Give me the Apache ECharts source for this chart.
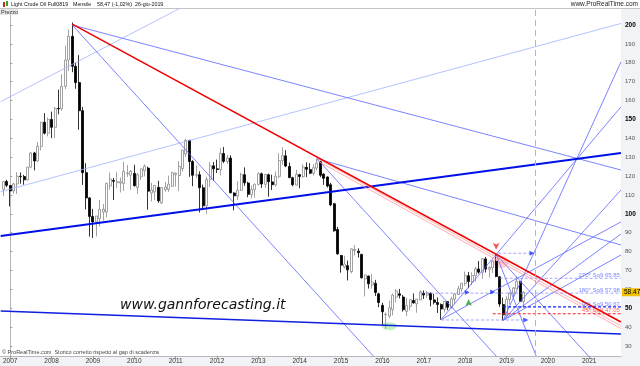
<!DOCTYPE html>
<html><head><meta charset="utf-8">
<script src="https://cdn.jsdelivr.net/npm/echarts@6/dist/echarts.min.js"></script>
<style>html,body{margin:0;padding:0;background:#fff}#c{width:640px;height:366px}</style>
</head><body><div id="c"></div>
<script>
// month index: 0 = Jan 2007; first candle Nov 2006 (-2), last Jun 2019 (149)
const firstMonth = -2;
const openP = [112.9,117.1,115.0,112.1,115.8,119.9,119.7,118.0,124.7,132.2,128.0,135.7,148.5,142.7,150.0,145.8,155.8,155.6,167.5,181.4,194.0,178.1,169.5,154.6,121.8,108.4,98.6,95.7,97.4,100.9,101.0,114.8,117.7,116.5,116.3,116.1,121.3,120.5,121.4,113.9,119.7,122.8,124.2,111.0,111.6,114.0,105.8,112.7,113.0,114.5,120.7,120.3,124.0,131.7,138.9,127.7,120.4,120.7,113.8,104.2,118.2,125.4,123.8,123.4,131.9,127.7,129.5,111.0,109.4,112.4,120.7,116.3,110.2,112.8,115.6,121.2,115.6,120.7,116.9,115.3,119.8,128.1,130.7,125.1,119.1,115.2,120.7,119.7,124.6,123.4,121.4,124.2,127.6,121.0,119.5,115.4,105.3,91.7,77.9,71.8,72.5,69.4,80.5,80.2,78.5,65.5,67.0,62.3,63.2,57.6,51.5,46.6,45.8,49.3,55.9,57.6,55.9,48.3,51.0,54.1,52.3,54.4,57.9,56.9,57.9,54.4,53.0,51.9,49.4,53.5,50.4,54.8,57.3,60.2,63.1,67.2,64.0,67.2,70.7,69.0,76.1,70.6,71.4,74.8,66.6,52.0,46.3,54.6,57.8,60.5,64.1,53.5];
const highP = [117.3,118.0,115.1,116.4,122.1,121.9,120.6,124.8,132.8,132.8,137.9,148.7,153.3,151.0,154.1,156.6,165.8,173.9,189.1,197.7,201.3,180.0,184.0,156.6,126.8,108.8,102.6,98.8,107.3,105.2,116.4,121.9,119.0,122.0,119.2,127.5,125.8,123.2,126.0,121.5,123.9,126.2,125.0,116.4,115.1,117.5,114.2,116.9,120.2,122.3,121.9,127.9,133.9,139.8,139.2,128.4,125.6,122.5,115.5,119.6,127.4,127.4,128.7,134.7,135.4,131.2,131.0,111.4,117.3,121.7,124.6,117.0,114.8,115.9,122.0,121.9,121.2,121.3,120.7,122.4,132.1,135.3,133.7,127.2,119.6,123.3,121.2,126.2,127.2,126.8,126.2,129.2,128.0,121.5,119.8,116.4,105.7,93.1,78.2,77.8,75.2,81.7,83.5,81.7,78.8,67.7,67.3,68.1,65.0,58.2,52.9,47.7,53.9,57.8,60.2,60.2,57.0,55.5,54.6,57.8,54.9,59.5,59.4,59.0,58.3,57.6,55.7,52.5,53.8,53.5,56.0,57.9,61.9,63.3,69.4,69.2,69.0,71.9,75.0,76.5,77.2,72.2,75.5,78.4,66.9,55.7,56.3,58.6,61.3,67.0,64.2,59.0];
const lowP = [109.4,114.1,103.9,110.6,110.5,115.9,115.4,117.6,124.1,123.0,127.5,133.6,142.0,141.0,140.1,140.1,152.7,154.5,166.1,175.6,175.0,166.2,144.5,115.3,102.3,87.9,87.2,88.0,93.2,96.4,98.2,112.8,107.3,113.7,111.3,112.1,119.5,112.7,114.4,110.5,117.9,119.8,102.2,106.6,107.2,105.8,105.2,111.7,111.6,114.4,114.4,112.0,122.4,130.1,119.6,114.6,118.9,100.7,102.1,100.0,114.2,117.5,121.6,120.3,126.9,126.4,110.9,101.8,107.3,112.2,114.8,108.8,108.1,108.5,115.0,113.7,113.8,109.1,112.6,114.4,118.8,126.1,124.7,118.8,114.5,115.0,113.5,119.0,119.4,121.0,120.3,122.9,119.4,115.3,113.9,104.0,90.5,78.3,68.8,71.0,64.7,68.5,77.9,76.8,65.7,56.2,60.4,60.4,56.5,50.5,40.7,39.1,44.7,46.2,53.0,55.2,48.2,45.9,48.8,52.5,47.6,54.3,54.9,55.3,51.0,52.0,47.5,43.9,47.8,48.9,49.7,52.2,57.1,58.6,61.8,60.6,62.3,64.1,68.3,65.6,68.9,66.2,68.7,66.4,50.7,43.5,45.3,52.0,55.7,60.4,53.2,50.6];
const closeP = [117.1,115.1,112.1,115.8,119.9,119.7,118.0,124.7,132.2,128.0,135.7,148.5,142.7,150.0,145.8,155.8,155.6,167.5,181.4,194.0,178.1,169.5,154.6,121.8,108.4,98.6,95.7,98.8,102.3,102.4,116.2,118.4,117.2,117.0,116.9,122.5,121.6,122.6,114.9,120.7,123.8,125.2,112.0,112.6,115.0,106.9,113.9,114.1,115.7,121.8,121.5,125.1,133.7,138.9,127.7,120.4,120.7,113.8,104.2,118.2,125.4,123.8,123.5,132.0,127.8,129.6,111.1,109.5,112.5,120.8,116.4,110.3,112.9,115.7,121.3,115.8,120.8,117.0,115.4,119.9,128.2,130.8,125.3,119.2,115.4,120.9,119.8,124.8,123.6,121.5,124.4,126.9,120.4,118.8,114.7,104.7,91.0,78.8,72.8,73.4,70.3,81.4,81.2,79.4,66.1,67.6,62.9,63.8,58.3,53.0,48.1,46.8,50.3,56.9,59.1,56.8,49.2,51.4,54.5,52.8,54.8,58.7,57.0,58.1,54.5,53.1,52.0,49.6,53.6,50.5,54.9,57.5,60.3,63.2,67.4,64.1,67.3,70.9,69.1,76.2,70.7,71.6,74.9,66.8,52.2,46.5,54.7,58.0,60.7,64.3,53.7,58.47];
const yearTicks = [0,12,24,36,48,60,72,84,96,108,120,132,144,156,168];
const priceTicks = [30,40,50,60,70,80,90,100,110,120,130,140,150,160,170,180,190,200];
const lastPrice = 58.47;
// trend lines: [month1, price1, month2, price2]
const redLines = [[18,200.5,177.2,42.7]];
const pinkLines = [[89,129.5,177.2,40.6],[89,128.2,177.2,39.2]];
const thickBlueLines = [[-2.78,88.2,177.2,132.2]];
const bottomBlueLines = [[-2.78,48.5,177.2,36.3]];
const thinBlueLines = [
  [18,200,110,15.3],[89,129.2,145,16.6],[18,200,177.2,123.2],[89,129.2,177.2,83.5],
  [143,43.5,177.2,180.4],[141,78.4,152.6,24.7],[141,78.4,170,20.2],
  [125,43.9,177.2,156.6],[125,43.9,177.2,95.7],
  [143,43.5,177.2,112.6],[143,43.5,177.2,89.3],[143,43.5,177.2,78.2]
];
const lightBlueLines = [[-2.78,159.4,55.2,214.5],[-2.78,111.7,177.2,200.8]];
// Square-of-9 levels
const sq9Names = ['270° Sq9','180° Sq9','90° Sq9','45° Sq9'];
const sq9Values = [65.85,57.98,50.67,47.05];
const sq9Start = [142,119,143,140];
const dashedSegs = [[141.6,79.1,151.7],[125,43.75,150]];
const verticalMonth = 152.3;
const lowCircle = [110,40.5];
const peakCircle = [142.4,74.5];
const downArrow = [141,80.9];
const upArrow = [133,54.9];
const rightArrows = [[151.4,79.1],[140,58.6],[132.6,58.4],[149.6,43.75]];

const FONT = 'Liberation Sans';
const candles = openP.map((o,i)=>[firstMonth+i,o,closeP[i],lowP[i],highP[i]]);
const series = [{
  type:'candlestick', data:candles, encode:{x:0,y:[1,2,3,4]}, barWidth:2.5, z:2,
  itemStyle:{color:'#ffffff',color0:'#000000',borderColor:'#8a8a8a',borderColor0:'#000000',borderWidth:0.8},
  markLine:{silent:true,symbol:'none',animation:false,data:[
    {yAxis:lastPrice,lineStyle:{color:'rgba(0,0,0,0)',width:0},label:{show:true,position:'end',distance:1,formatter:'58.47',backgroundColor:'#f2c200',color:'#000',fontSize:6.5,padding:[1,2,0,2],fontFamily:FONT}},
    {xAxis:verticalMonth,lineStyle:{color:'#a8b0f0',type:[6,4],width:1},label:{show:false}}
  ]}
}];
function addLines(arr, style){
  arr.forEach(l=>series.push({type:'line',data:[[l[0],l[1]],[l[2],l[3]]],symbol:'none',silent:true,z:3,animation:false,lineStyle:style}));
}
addLines(lightBlueLines,{color:'#9fb4ff',width:0.8});
addLines(thinBlueLines,{color:'#5a64ff',width:0.8});
addLines(thickBlueLines,{color:'#0010e8',width:2});
addLines(bottomBlueLines,{color:'#1020e0',width:1.4});
addLines(pinkLines,{color:'#ff9a9a',width:0.8});
addLines(redLines,{color:'#f00000',width:1.5});
sq9Values.forEach((v,i)=>{
  const red = i===3;
  series.push({type:'line',data:[[sq9Start[i],v],[177.2,v]],symbol:'none',silent:true,z:3,animation:false,
    lineStyle:{color: red?'#ff2020':(i===2?'#1020ff':'#8a90ff'),width:red||i===2?1.2:0.8,type:[3,2]}});
});
series.push({type:'scatter',silent:true,z:6,symbolSize:0,clip:false,
  data:sq9Values.map((v,i)=>({value:[176.9,v],label:{formatter:sq9Names[i]+' '+v.toFixed(2),color:i===3?'#ff4040':'#5a64ff'}})),
  label:{show:true,position:'left',distance:0,offset:[0,-3],fontSize:6,fontFamily:FONT}});
dashedSegs.forEach(s=>series.push({type:'line',data:[[s[0],s[1]],[s[2],s[1]]],symbol:'none',silent:true,z:3,animation:false,lineStyle:{color:'#8a90ff',width:0.8,type:[3,2]}}));
series.push({type:'scatter',silent:true,z:1,data:[lowCircle],symbol:'circle',symbolSize:[15,8],itemStyle:{color:'rgba(120,220,120,0.55)'}});
series.push({type:'scatter',silent:true,z:1,data:[peakCircle],symbol:'circle',symbolSize:[16,12],itemStyle:{color:'rgba(255,140,140,0.5)'}});
series.push({type:'scatter',silent:true,z:4,data:[downArrow],symbol:'arrow',symbolRotate:180,symbolSize:[5,7],itemStyle:{color:'#e83030'}});
series.push({type:'scatter',silent:true,z:4,data:[upArrow],symbol:'arrow',symbolSize:[5,7],itemStyle:{color:'#20a020'}});
series.push({type:'scatter',silent:true,z:4,data:rightArrows,symbol:'triangle',symbolRotate:-90,symbolSize:[5,5],itemStyle:{color:'#2030ff'}});

const chart = echarts.init(document.getElementById('c'),null,{renderer:'canvas'});
chart.setOption({
  animation:false,
  grid:{left:0,right:19,top:9,bottom:10},
  xAxis:{type:'value',min:-2.78,max:177.22,splitLine:{show:false},
    axisLine:{show:true,lineStyle:{color:'#b8b8b8'}},
    axisTick:{show:true,customValues:yearTicks,length:3,lineStyle:{color:'#999'}},
    axisLabel:{customValues:yearTicks,formatter:v=>String(2007+Math.round(v/12)),fontSize:6.5,color:'#333',margin:2,fontFamily:FONT}},
  yAxis:{type:'value',position:'right',min:24.68,max:208.47,splitLine:{show:false},
    axisLine:{show:true,lineStyle:{color:'#b8b8b8'}},
    axisTick:{show:true,customValues:priceTicks,length:2,lineStyle:{color:'#999'}},
    axisLabel:{customValues:priceTicks,fontSize:6,margin:4,fontFamily:FONT,
      formatter:v=>(v%50===0?'{b|'+v+'}':'{n|'+v+'}'),
      rich:{b:{fontWeight:'bold',color:'#000',fontSize:6.5},n:{color:'#555',fontSize:6}}}},
  graphic:[
    {type:'rect',z:-5,shape:{x:621,y:9,width:19,height:357},style:{fill:'#f1f3f6'}},
    {type:'rect',z:-5,shape:{x:0,y:356,width:640,height:10},style:{fill:'#f1f3f6'}},
    {type:'line',z:5,shape:{x1:0,y1:8.5,x2:640,y2:8.5},style:{stroke:'#c4c4c4',lineWidth:1}},
    {type:'rect',z:5,shape:{x:0,y:9,width:18,height:6},style:{fill:'#e6e6e6'}},
    {type:'text',z:6,style:{x:1,y:12,text:'Prezzo',fontSize:5.5,fill:'#333',verticalAlign:'middle',fontFamily:FONT}},
    {type:'rect',z:6,shape:{x:3,y:2,width:2,height:5},style:{fill:'#d02020'}},
    {type:'rect',z:6,shape:{x:6,y:1,width:2,height:5},style:{fill:'#20b020'}},
    {type:'text',z:6,style:{x:11,y:4.5,text:'Light Crude Oil Full0819',fontSize:5.3,fill:'#111',verticalAlign:'middle',fontFamily:FONT}},
    {type:'text',z:6,style:{x:73,y:4.5,text:'Mensile',fontSize:5.3,fill:'#111',verticalAlign:'middle',fontFamily:FONT}},
    {type:'text',z:6,style:{x:97,y:4.5,text:'58,47 (-1,02%)',fontSize:5.3,fill:'#111',verticalAlign:'middle',fontFamily:FONT}},
    {type:'text',z:6,style:{x:135,y:4.5,text:'26-giu-2019',fontSize:5.3,fill:'#111',verticalAlign:'middle',fontFamily:FONT}},
    {type:'text',z:6,style:{x:638,y:4.5,text:'www.ProRealTime.com',fontSize:6.5,fill:'#222',align:'right',verticalAlign:'middle',fontFamily:FONT}},
    {type:'text',z:6,style:{x:2,y:352,text:'© ProRealTime.com  Storico corretto rispetto al gap di scadenza',fontSize:5.5,fill:'#444',verticalAlign:'middle',fontFamily:FONT}},
    {type:'text',z:6,style:{x:120,y:305,text:'www.gannforecasting.it',fontSize:14,fontStyle:'italic',fill:'#111',verticalAlign:'middle',fontFamily:'DejaVu Sans'}}
  ],
  series:series
});
</script></body></html>
